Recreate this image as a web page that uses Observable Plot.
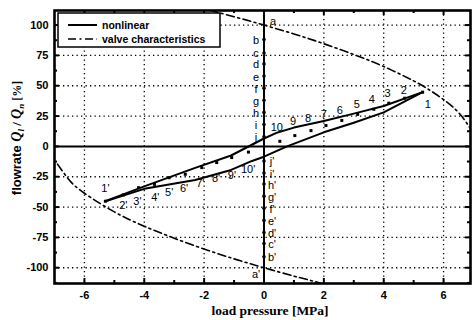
<!DOCTYPE html>
<html><head><meta charset="utf-8">
<script src="https://cdn.jsdelivr.net/npm/d3@7"></script>
<script src="https://cdn.jsdelivr.net/npm/@observablehq/plot@0.6"></script>
<style>
body{margin:0;background:#fff}
#chart{position:relative;width:473px;height:320px}
</style>
</head><body><div id="chart"></div>
<script>
// ---- data ----
const pressureTicks = [-6,-4,-2,0,2,4,6];
const flowTicks = [-100,-75,-50,-25,0,25,50,75,100];
const pressureGrid = [-6,-4,-2,2,4,6];
const flowGrid = [-100,-75,-50,-25,25,50,75,100];
const pressureMinor = [-5,-3,-1,1,3,5];
const flowMinor = [-112.5,-87.5,-62.5,-37.5,-12.5,12.5,37.5,62.5,87.5];

// nonlinear loop (upper branch 1' -> 1, lower branch 1 -> 1')
const nlUpperP = [-5.3,-4,-2.3,-1.1,0,0.4,1,2,3,4,5.3];
const nlUpperQ = [-45.2,-33,-17.7,-7.5,6.5,11,15.5,21,27,33.3,44.7];
const nlLowerP = [5.3,4,3,2,0.77,0,-0.4,-1.1,-2.3,-4,-5.3];
const nlLowerQ = [44.7,28,19.5,11.6,0,-8.5,-12,-19.4,-27.7,-35,-45.2];

// valve characteristics
const valveUpP = [-1.8,-1.5,-1,-0.5,0,1,2,3,4,5,5.5,6,6.5,6.9];
const valveUpQ = [112.2,110.1,106.9,103.5,100,92.7,84.6,75.7,65.8,54,46.9,38.6,27.9,14.6];
const valveLoP = [-6.9,-6.5,-6,-5,-4,-3,-2,-1,0,1,1.5,1.9];
const valveLoQ = [-14.6,-27.9,-38.6,-54,-65.8,-75.7,-84.6,-92.7,-100,-106.9,-110.1,-112.8];

// measured points 1..10 and 1'..10'
const ptNames = ["1","2","3","4","5","6","7","8","9","10"];
const ptP = [5.3,4.7,4.17,3.67,3.13,2.6,2.07,1.57,1.03,0.53];
const ptQ = [44.7,39.7,35.6,30.6,26.4,21.4,17.2,13,8.9,4.2];
const ptLabelP = [5.47,4.67,4.13,3.6,3.1,2.53,2.0,1.47,0.97,0.43];
const ptLabelQ = [34.5,46.5,43.5,38.5,34.2,30,26.5,23,20.5,16];
const primeNames = ["1'","2'","3'","4'","5'","6'","7'","8'","9'","10'"];
const primeP = [-5.3,-4.7,-4.19,-3.66,-3.17,-2.63,-2.08,-1.58,-1.08,-0.52];
const primeQ = [-45.2,-40,-34,-31.3,-25.8,-23,-17.5,-13.3,-9.2,-4.7];
const primeLabelP = [-5.3,-4.7,-4.23,-3.63,-3.17,-2.67,-2.13,-1.6,-1.07,-0.53];
const primeLabelQ = [-34.4,-48.6,-45.8,-41.7,-38.3,-34.7,-30.5,-26.3,-23.6,-19.4];

// operating points on the pressure = 0 axis
const axisLetters = ["a","b","c","d","e","f","g","h","i","j"];
const axisQ = [100,88,77,68,58,48,38,28,18,8];
const axisPrimeLetters = ["a'","b'","c'","d'","e'","f'","g'","h'","i'","j'"];
const axisPrimeQ = [-100,-91,-80,-71,-61,-51,-41,-31,-22,-12];

// ---- build ----
const W = 473, H = 320, mL = 54, mR = 3, mT = 10, mB = 37;
const innerW = W - mL - mR, innerH = H - mT - mB;
const zip = (a, b) => a.map((v, i) => ({p: v, q: b[i]}));
const lab = (names, a, b) => names.map((n, i) => ({n, p: a[i], q: b[i]}));
const sans = "Liberation Sans, Arial, Helvetica, sans-serif";
const serif = "Liberation Serif, Times New Roman, serif";
const txt = {x: "p", y: "q", text: "n", fontSize: 11, fontFamily: sans, fill: "black"};
const dash = "8,3.5,2,3.5";

const plot = Plot.plot({
  width: W, height: H,
  marginLeft: mL, marginRight: mR, marginTop: mT, marginBottom: mB,
  x: {domain: [-7, 6.9]},
  y: {domain: [-113, 112]},
  style: {fontFamily: sans, background: "white", color: "black"},
  marks: [
    Plot.ruleX(pressureGrid, {stroke: "black", strokeWidth: 1.3, strokeDasharray: "1.3,3.2"}),
    Plot.ruleY(flowGrid, {stroke: "black", strokeWidth: 1.3, strokeDasharray: "1.3,3.2"}),
    Plot.ruleY([0], {stroke: "black", strokeWidth: 2}),
    Plot.ruleX([0], {stroke: "black", strokeWidth: 2}),
    // inward ticks
    Plot.ruleX(pressureTicks, {insetTop: innerH - 5, stroke: "black", strokeWidth: 2}),
    Plot.ruleX(pressureMinor, {insetTop: innerH - 3, stroke: "black", strokeWidth: 2}),
    Plot.ruleX(pressureTicks, {insetBottom: innerH - 5, stroke: "black", strokeWidth: 2}),
    Plot.ruleX(pressureMinor, {insetBottom: innerH - 3, stroke: "black", strokeWidth: 2}),
    Plot.ruleY(flowTicks, {insetRight: innerW - 5, stroke: "black", strokeWidth: 2}),
    Plot.ruleY(flowMinor, {insetRight: innerW - 3, stroke: "black", strokeWidth: 2}),
    Plot.ruleY(flowTicks, {insetLeft: innerW - 5, stroke: "black", strokeWidth: 2}),
    Plot.ruleY(flowMinor, {insetLeft: innerW - 3, stroke: "black", strokeWidth: 2}),
    // valve characteristics
    Plot.line(zip(valveUpP, valveUpQ), {x: "p", y: "q", curve: "natural", stroke: "black", strokeWidth: 1.6, strokeDasharray: dash, clip: true}),
    Plot.line(zip(valveLoP, valveLoQ), {x: "p", y: "q", curve: "natural", stroke: "black", strokeWidth: 1.6, strokeDasharray: dash, clip: true}),
    // nonlinear loop
    Plot.line(zip(nlUpperP, nlUpperQ), {x: "p", y: "q", stroke: "black", strokeWidth: 2, strokeLinejoin: "round"}),
    Plot.line(zip(nlLowerP, nlLowerQ), {x: "p", y: "q", stroke: "black", strokeWidth: 2, strokeLinejoin: "round"}),
    // measured points
    Plot.dot(zip(ptP, ptQ), {x: "p", y: "q", symbol: "square", r: 1.7, fill: "black"}),
    Plot.dot(zip(primeP, primeQ), {x: "p", y: "q", symbol: "square", r: 1.7, fill: "black"}),
    Plot.text(lab(ptNames, ptLabelP, ptLabelQ), txt),
    Plot.text(lab(primeNames, primeLabelP, primeLabelQ), txt),
    // axis operating points
    Plot.dot(axisQ.slice(1), {x: () => 0, y: d => d, r: 1.8, fill: "black"}),
    Plot.dot(axisPrimeQ.slice(1), {x: () => 0, y: d => d, r: 1.8, fill: "black"}),
    Plot.text(lab(axisLetters, axisQ.map(() => 0), axisQ).slice(0, 1), {...txt, dx: 9, dy: -4}),
    Plot.text(lab(axisLetters, axisQ.map(() => 0), axisQ).slice(1), {...txt, dx: -8, dy: 1}),
    Plot.text(lab(axisPrimeLetters, axisPrimeQ.map(() => 0), axisPrimeQ).slice(0, 1), {...txt, dx: -8, dy: 7}),
    Plot.text(lab(axisPrimeLetters, axisPrimeQ.map(() => 0), axisPrimeQ).slice(1), {...txt, dx: 8, dy: 1}),
    // axes
    Plot.axisX(pressureTicks, {tickSize: 0, tickPadding: 8, fontSize: 11, fontWeight: "bold", tickFormat: d => String(d), label: null, fill: "black"}),
    Plot.axisY(flowTicks, {tickSize: 0, tickPadding: 6, fontSize: 11, fontWeight: "bold", tickFormat: d => String(d), label: null, fill: "black"}),
    Plot.frame({stroke: "black", strokeWidth: 2.6})
  ]
});

document.getElementById("chart").appendChild(plot);
const svg = d3.select(plot);

// legend
const lg = svg.append("g").attr("text-anchor", "start");
lg.append("rect").attr("x", 58).attr("y", 13).attr("width", 162).attr("height", 34)
  .style("fill", "white").style("stroke", "black").style("stroke-width", "1.5px");
lg.append("line").attr("x1", 68).attr("x2", 97).attr("y1", 25).attr("y2", 25)
  .style("stroke", "black").style("stroke-width", "2px");
lg.append("line").attr("x1", 68).attr("x2", 97).attr("y1", 39).attr("y2", 39)
  .style("stroke", "black").style("stroke-width", "1.6px").style("stroke-dasharray", dash);
lg.append("text").attr("x", 102).attr("y", 25).attr("dy", "0.35em").attr("text-anchor", "start")
  .style("font-family", sans).style("font-size", "10.5px").style("font-weight", "bold").style("fill", "black").text("nonlinear");
lg.append("text").attr("x", 102).attr("y", 39).attr("dy", "0.35em").attr("text-anchor", "start")
  .style("font-family", sans).style("font-size", "10.5px").style("font-weight", "bold").style("fill", "black").text("valve characteristics");

// x axis title
svg.append("text").attr("x", 270).attr("y", 315).attr("text-anchor", "middle")
  .style("font-family", serif).style("font-size", "13.5px").style("font-weight", "bold").style("fill", "black").text("load pressure [MPa]");

// y axis title
const yt = svg.append("text").attr("transform", "translate(21,138) rotate(-90)")
  .attr("text-anchor", "middle").style("font-weight", "bold").style("fill", "black");
yt.append("tspan").style("font-family", sans).style("font-size", "13px").text("flowrate ");
yt.append("tspan").style("font-family", serif).style("font-style", "italic").style("font-size", "14px").text("Q");
yt.append("tspan").style("font-family", serif).style("font-style", "italic").style("font-size", "9px").attr("dy", 3).text("l");
yt.append("tspan").style("font-family", serif).style("font-size", "13px").attr("dy", -3).text(" / ");
yt.append("tspan").style("font-family", serif).style("font-style", "italic").style("font-size", "14px").text("Q");
yt.append("tspan").style("font-family", serif).style("font-style", "italic").style("font-size", "9px").attr("dy", 3).text("n");
yt.append("tspan").style("font-family", serif).style("font-size", "12px").attr("dy", -3).text(" [%]");
</script>
</body></html>
